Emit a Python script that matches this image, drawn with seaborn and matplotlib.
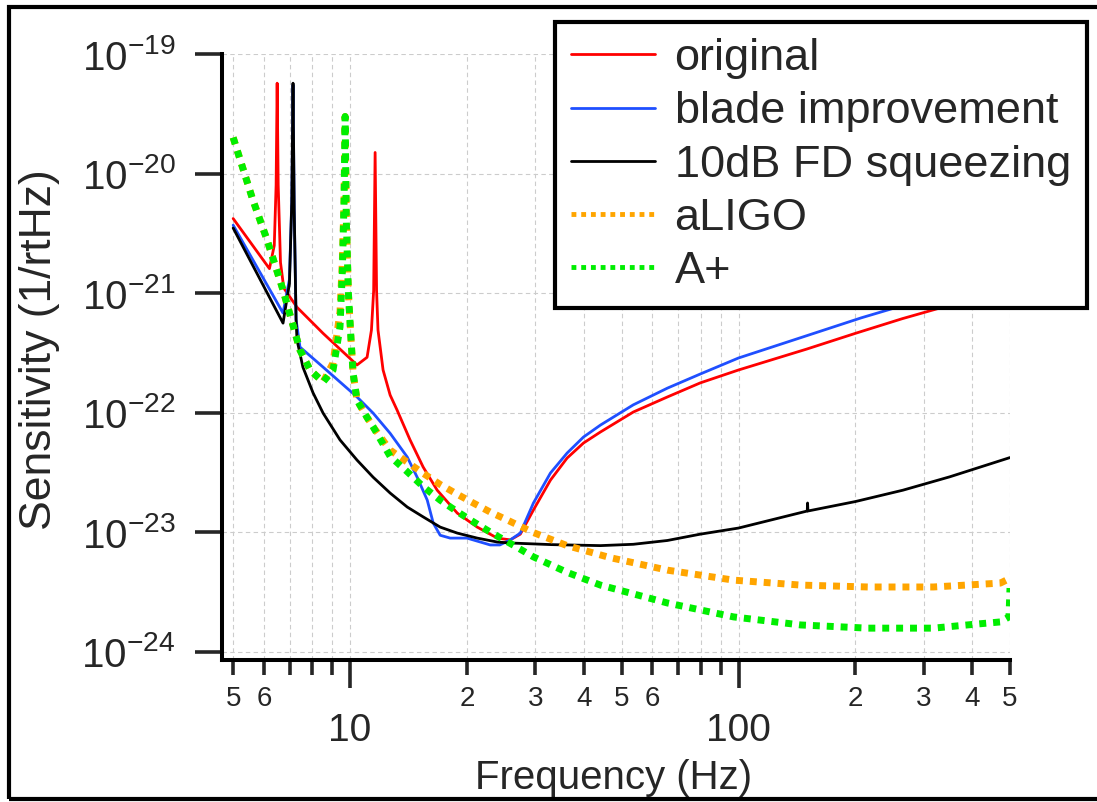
import numpy as np
import pandas as pd
import matplotlib
matplotlib.use("Agg")
import matplotlib.pyplot as plt
import seaborn as sns
from matplotlib.patches import Rectangle
from matplotlib.ticker import NullLocator

# --- data (frequency in Hz, sensitivity in 1/rtHz) ---
original_f = [5.0, 6.2, 6.38, 6.45, 6.49, 6.53, 6.62, 6.75, 7.3, 8.52, 10.42, 11.06, 11.35, 11.5,
              11.6, 11.7, 11.8, 12.16, 12.68, 13.21, 14.27, 15.42, 16.76, 18.88, 21.25, 23.93,
              25.85, 27.43, 29.65, 32.8, 36.2, 39.9, 44.1, 53.6, 65.6, 79.7, 100, 150, 200, 264, 500]
original_s = [4.2e-21, 1.6e-21, 2.5e-21, 8e-21, 5.7e-20, 8e-21, 1.8e-21, 1.1e-21, 7.6e-22, 4.6e-22,
              2.5e-22, 2.9e-22, 4.9e-22, 1.05e-21, 1.5e-20, 1.05e-21, 4.9e-22, 2.27e-22, 1.4e-22,
              1.05e-22, 5.9e-23, 3.5e-23, 2.24e-23, 1.44e-23, 1.1e-23, 8.9e-24, 8.6e-24, 9.6e-24,
              1.53e-23, 2.72e-23, 4.16e-23, 5.56e-23, 6.87e-23, 1.01e-22, 1.35e-22, 1.77e-22,
              2.27e-22, 3.4e-22, 4.6e-22, 6.1e-22, 1.1e-21]

blade_f = [5.0, 6.72, 6.98, 7.08, 7.13, 7.18, 7.26, 7.43, 8.52, 10.42, 11.46, 12.68, 14.03, 14.88,
           15.8, 16.37, 17.06, 18.1, 20.0, 22.95, 24.3, 25.85, 27.43, 29.65, 32.8, 36.2, 39.9, 44.1,
           53.6, 65.6, 79.7, 100, 150, 207, 500]
blade_s = [3.7e-21, 6.8e-22, 1.3e-21, 6e-21, 5.5e-20, 5e-21, 6e-22, 3.53e-22, 2.4e-22, 1.35e-22,
           9.9e-23, 6.7e-23, 4.25e-23, 2.88e-23, 1.85e-23, 1.19e-23, 9.4e-24, 8.9e-24, 8.9e-24,
           7.8e-24, 7.8e-24, 8.6e-24, 9.8e-24, 1.75e-23, 3.12e-23, 4.58e-23, 6.24e-23, 7.85e-23,
           1.16e-22, 1.6e-22, 2.1e-22, 2.86e-22, 4.4e-22, 6.2e-22, 1.45e-21]

fd_f = [5.0, 6.72, 6.98, 7.08, 7.13, 7.18, 7.26, 7.3, 7.56, 8.03, 8.52, 9.42, 10.42, 11.46, 12.68,
        14.03, 15.42, 17.06, 18.88, 21.25, 23.93, 25.85, 33.0, 44.1, 53.6, 65.6, 79.7, 100,
        150.3, 150.6, 150.9, 200, 265, 350, 500]
fd_s = [3.5e-21, 5.6e-22, 1.2e-21, 6e-21, 5.7e-20, 5e-21, 6e-22, 4.05e-22, 2.4e-22, 1.46e-22,
        9.9e-23, 5.9e-23, 4.0e-23, 2.88e-23, 2.12e-23, 1.62e-23, 1.34e-23, 1.1e-23, 9.8e-24,
        8.9e-24, 8.25e-24, 8.1e-24, 7.85e-24, 7.7e-24, 7.9e-24, 8.5e-24, 9.6e-24, 1.08e-23,
        1.5e-23, 1.75e-23, 1.5e-23, 1.8e-23, 2.24e-23, 2.9e-23, 4.2e-23]

aligo_f = [5.0, 5.62, 6.11, 6.72, 7.43, 7.89, 8.52, 9.04, 9.42, 9.55, 9.65, 9.71, 9.78, 9.9,
           10.06, 10.18, 10.42, 11.06, 11.46, 12.68, 14.03, 15.42, 17.06, 18.88, 20.76, 22.95,
           25.4, 29.65, 36.2, 46.8, 65.6, 97.1, 144.5, 215.4, 317.5, 472, 500]
aligo_s = [2.0e-20, 6.0e-21, 2.8e-21, 1.06e-21, 3.33e-22, 2.27e-22, 1.8e-22, 2.6e-22, 7e-22,
           1.8e-21, 6e-21, 3e-20, 4e-21, 1e-21, 4.0e-22, 2.14e-22, 1.27e-22, 9.1e-23, 7.6e-23,
           4.85e-23, 3.85e-23, 3.1e-23, 2.5e-23, 2.07e-23, 1.75e-23, 1.47e-23, 1.26e-23, 9.9e-24,
           7.7e-24, 6.1e-24, 4.8e-24, 3.96e-24, 3.6e-24, 3.47e-24, 3.47e-24, 3.74e-24, 4.1e-24]

aplus_f = [5.0, 5.62, 6.11, 6.72, 7.43, 7.89, 8.52, 9.04, 9.42, 9.55, 9.65, 9.71, 9.78, 9.9,
           10.06, 10.18, 10.42, 11.06, 11.46, 12.68, 14.03, 15.42, 17.06, 18.88, 20.76, 22.95,
           25.4, 29.65, 36.2, 44.1, 65.6, 97.1, 144.5, 215.4, 317.5, 388, 472, 497, 500]
aplus_s = [2.0e-20, 6.0e-21, 2.8e-21, 1.06e-21, 3.33e-22, 2.27e-22, 1.8e-22, 2.27e-22, 5.2e-22,
           1.5e-21, 6e-21, 3e-20, 4e-21, 1e-21, 4.0e-22, 2.14e-22, 1.27e-22, 9.1e-23, 7.6e-23,
           4.3e-23, 3.2e-23, 2.4e-23, 1.85e-23, 1.48e-23, 1.22e-23, 1.0e-23, 8.3e-24, 6.2e-24,
           4.6e-24, 3.6e-24, 2.55e-24, 1.95e-24, 1.67e-24, 1.57e-24, 1.57e-24, 1.67e-24, 1.77e-24,
           1.95e-24, 3.4e-24]

x_major = [10, 100]
x_major_labels = ["10", "100"]
x_minor = [5, 6, 7, 8, 9, 20, 30, 40, 50, 60, 70, 80, 90, 200, 300, 400, 500]
x_minor_labels = ["5", "6", "", "", "", "2", "3", "4", "5", "6", "", "", "", "2", "3", "4", "5"]
y_ticks = [1e-24, 1e-23, 1e-22, 1e-21, 1e-20, 1e-19]
y_labels = [r"$10^{-24}$", r"$10^{-23}$", r"$10^{-22}$", r"$10^{-21}$", r"$10^{-20}$", r"$10^{-19}$"]

sns.set_style("ticks")
plt.rcParams["font.family"] = ["Liberation Sans", "DejaVu Sans"]
plt.rcParams["mathtext.fontset"] = "custom"
plt.rcParams["mathtext.rm"] = "Liberation Sans"
plt.rcParams["mathtext.it"] = "Liberation Sans:italic"
plt.rcParams["mathtext.default"] = "regular"

W, H = 1097, 802
fig = plt.figure(figsize=(W / 100, H / 100), dpi=100)
ax = fig.add_axes([222 / W, 1 - 660 / H, 788 / W, 606 / H])

series = [
    ("original", original_f, original_s, "#ff0000", "-", 2.0),
    ("blade improvement", blade_f, blade_s, "#1f4fff", "-", 2.0),
    ("10dB FD squeezing", fd_f, fd_s, "black", "-", 2.0),
    ("aLIGO", aligo_f, aligo_s, "#ffa500", (0, (1, 1)), 5.0),
    ("A+", aplus_f, aplus_s, "#00ee00", (0, (1, 1)), 5.0),
]
for name, f, s, col, ls, lw in series:
    df = pd.DataFrame({"freq": f, "sens": s})
    sns.lineplot(data=df, x="freq", y="sens", ax=ax, color=col, linestyle=ls, linewidth=lw,
                 label=name, estimator=None, sort=False, dash_capstyle="butt")

ax.set_xscale("log")
ax.set_yscale("log")
ax.set_xlim(4.68, 500)
ax.set_ylim(8.5e-25, 1e-19)

ax.set_xticks(x_major, labels=x_major_labels)
ax.set_xticks(x_minor, labels=x_minor_labels, minor=True)
ax.set_yticks(y_ticks, labels=y_labels)
ax.yaxis.set_minor_locator(NullLocator())

ax.tick_params(axis="x", which="major", direction="out", length=20, width=2.6, pad=18, labelsize=28)
ax.tick_params(axis="x", which="minor", direction="out", length=11, width=2.6, pad=8, labelsize=20)
ax.tick_params(axis="y", which="major", direction="out", length=19.5, width=2.6, pad=14, labelsize=29)

ax.grid(axis="x", which="both", color="#cccccc", linestyle=(0, (4, 3)), linewidth=0.8)
ax.grid(axis="y", which="major", color="#cccccc", linestyle=(0, (4, 3)), linewidth=0.8)

for side in ["top", "right"]:
    ax.spines[side].set_visible(False)
for side in ["left", "bottom"]:
    ax.spines[side].set_linewidth(2.9)
    ax.spines[side].set_color("black")

ax.set_xlabel("Frequency (Hz)", fontsize=29, va="center")
ax.xaxis.set_label_coords(0.497, -0.195)
ax.set_ylabel("Sensitivity (1/rtHz)", fontsize=32, va="center")
ax.yaxis.set_label_coords(-0.231, 0.512)

leg = ax.legend(loc="upper right", bbox_to_anchor=(1087 / W, 1 - 22 / H), bbox_transform=fig.transFigure,
                fontsize=32.5, frameon=True, fancybox=False, edgecolor="black", framealpha=1,
                borderaxespad=0, handlelength=1.85, handletextpad=0.44, labelspacing=0.27, borderpad=0.36)
leg.get_frame().set_linewidth(3)
for h in leg.get_lines()[3:]:
    h.set_linewidth(3.5)

fig.add_artist(Rectangle((9 / W, 3 / H), 1.5, 1 - 10 / H, transform=fig.transFigure,
                         fill=False, linewidth=3, edgecolor="black", clip_on=False))

fig.savefig("out.png", dpi=100)
